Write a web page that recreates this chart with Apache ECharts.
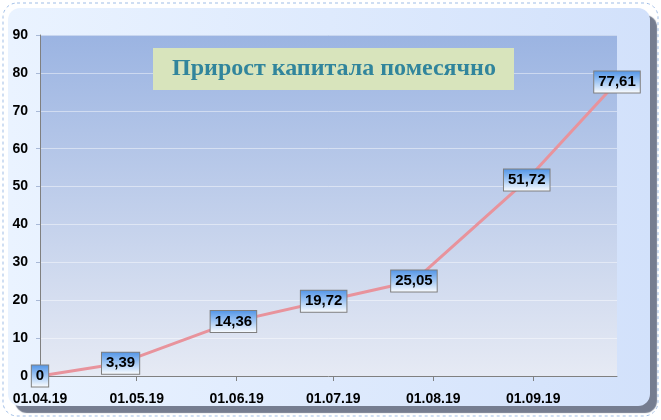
<!DOCTYPE html>
<html>
<head>
<meta charset="utf-8">
<script src="https://cdn.jsdelivr.net/npm/echarts@6/dist/echarts.min.js"></script>
<style>
  html, body { margin: 0; padding: 0; background: #fff; }
  #chart { width: 661px; height: 420px; }
</style>
</head>
<body>
<div id="chart"></div>
<script>
// dates of the points (last Friday of each month) and the capital gain
var dates = ['2019-04-01', '2019-04-26', '2019-05-31', '2019-06-28', '2019-07-26', '2019-08-30', '2019-09-27'];
var values = [0, 3.39, 14.36, 19.72, 25.05, 51.72, 77.61];
// x tick labels: first day of each month
var monthTicks = ['2019-04-01', '2019-05-01', '2019-06-01', '2019-07-01', '2019-08-01', '2019-09-01'];
var titleText = 'Прирост капитала помесячно';

function ts(s) {
  var p = s.split('-');
  return Date.UTC(+p[0], +p[1] - 1, +p[2]);
}
function pad(n) { return (n < 10 ? '0' : '') + n; }

var seriesData = [];
for (var i = 0; i < dates.length; i++) {
  seriesData.push([ts(dates[i]), values[i]]);
}
var tickValues = monthTicks.map(ts);
var font = 'Arial, "Liberation Sans", sans-serif';

var ec = echarts.init(document.getElementById('chart'));
ec.setOption({
  animation: false,
  graphic: [{
    type: 'rect',
    z: -10,
    shape: { x: 3, y: 3, width: 655, height: 413, r: 14 },
    style: { fill: 'none', stroke: '#9fbde6', lineWidth: 1, lineDash: [3, 3] }
  }, {
    type: 'rect',
    z: -9,
    shape: { x: 8, y: 8, width: 642, height: 398, r: 12 },
    style: {
      fill: new echarts.graphic.LinearGradient(0, 0, 1, 0, [
        { offset: 0, color: '#eaf3ff' },
        { offset: 1, color: '#d2e1fb' }
      ]),
      shadowColor: 'rgba(110,118,138,0.95)',
      shadowOffsetX: 7,
      shadowOffsetY: 7,
      shadowBlur: 1
    }
  }, {
    type: 'rect',
    z: 10,
    shape: { x: 153, y: 48, width: 361, height: 42 },
    style: { fill: '#d8e4bc' }
  }, {
    type: 'text',
    z: 11,
    x: 334,
    y: 69,
    style: {
      text: titleText,
      fill: '#31859c',
      font: 'bold 24px "Liberation Serif", "Times New Roman", serif',
      align: 'center',
      verticalAlign: 'middle'
    }
  }],
  grid: {
    left: 40,
    right: 44,
    top: 35,
    bottom: 44,
    show: true,
    borderWidth: 0,
    backgroundColor: new echarts.graphic.LinearGradient(0, 0, 0, 1, [
      { offset: 0, color: '#9bb4e2' },
      { offset: 1, color: '#e6eaf4' }
    ])
  },
  xAxis: {
    type: 'value',
    min: ts(dates[0]),
    max: ts(dates[dates.length - 1]),
    axisLine: { show: true, lineStyle: { color: '#808080', width: 1 } },
    axisTick: {
      show: true,
      length: 5,
      customValues: tickValues,
      lineStyle: { color: '#808080' }
    },
    axisLabel: {
      customValues: tickValues,
      margin: 16,
      color: '#000',
      fontWeight: 'bold',
      fontSize: 14,
      fontFamily: font,
      formatter: function (v) {
        var d = new Date(v);
        return pad(d.getUTCDate()) + '.' + pad(d.getUTCMonth() + 1) + '.' + String(d.getUTCFullYear()).slice(2);
      }
    },
    splitLine: { show: false }
  },
  yAxis: {
    type: 'value',
    min: 0,
    max: 90,
    interval: 10,
    axisLine: { show: true, lineStyle: { color: '#808080', width: 1 } },
    axisTick: { show: true, length: 4, lineStyle: { color: '#a9b9d6' } },
    axisLabel: {
      margin: 12,
      color: '#000',
      fontWeight: 'bold',
      fontSize: 14,
      fontFamily: font
    },
    splitLine: { show: true, lineStyle: { color: 'rgba(255,255,255,0.45)', width: 1 } }
  },
  series: [{
    type: 'line',
    data: seriesData,
    symbol: 'circle',
    symbolSize: 2,
    showSymbol: true,
    itemStyle: { color: '#e8939c' },
    lineStyle: { color: '#e8939c', width: 3 },
    label: {
      show: true,
      position: 'inside',
      color: '#000',
      fontWeight: 'bold',
      fontSize: 15,
      fontFamily: font,
      padding: [4, 4, 2, 4],
      borderColor: '#7f7f7f',
      borderWidth: 1,
      backgroundColor: new echarts.graphic.LinearGradient(0, 0, 0, 1, [
        { offset: 0, color: '#4f93e6' },
        { offset: 0.5, color: '#a3c8f4' },
        { offset: 1, color: '#ffffff' }
      ]),
      formatter: function (p) {
        return String(p.value[1]).replace('.', ',');
      }
    }
  }]
});
</script>
</body>
</html>
